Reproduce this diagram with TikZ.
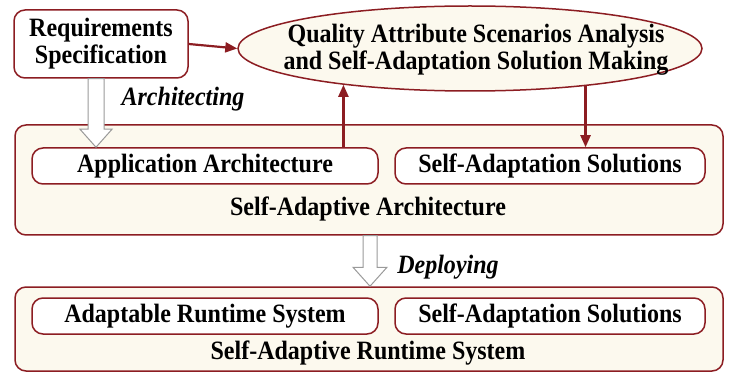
\documentclass[tikz,border=0pt]{standalone}
\usepackage{fontspec}
\setmainfont{Liberation Serif}
\usetikzlibrary{shapes.geometric,arrows.meta,calc}
\definecolor{wine}{HTML}{8C1D22}
\definecolor{cream}{HTML}{FCF9EE}
\definecolor{arrowgray}{HTML}{9A9A9A}
\newcommand\tallish[1]{\scalebox{0.98}[1.08]{#1}}
\tikzset{
  lbl/.style={font=\fontsize{24.5}{27}\selectfont\bfseries, align=center},
  itlbl/.style={font=\fontsize{24.5}{27}\selectfont\bfseries\itshape},
  roundbox/.style={draw=wine, line width=1.5pt, rounded corners=11pt, inner sep=0pt},
  outerbox/.style={roundbox, fill=cream},
  innerbox/.style={roundbox, fill=white, lbl},
  link/.style={draw=wine, line width=2.2pt, -{Triangle[length=12pt,width=10pt]}},
  hollow/.style={draw=arrowgray, fill=white, line width=1pt, line join=miter},
}
% hollow block arrow from #1 (top) down to #2 (tip); #3 shaft half width, #4 head half width, #5 head length
\newcommand\blockdown[5]{%
  \path[hollow] let \p1=(#1), \p2=(#2) in
    (\x1-#3,\y1) -- (\x1-#3,\y2+#5) -- (\x1-#4,\y2+#5) -- (\x1,\y2)
    -- (\x1+#4,\y2+#5) -- (\x1+#3,\y2+#5) -- (\x1+#3,\y1) -- cycle;}
\begin{document}
\begin{tikzpicture}[x=1pt,y=-1pt]
\useasboundingbox (0,0) rectangle (729,377);

% architecture layer
\node[outerbox, minimum width=708pt, minimum height=110pt] (arch) at (369,180) {};
\node[lbl] (archlbl) at (368,209) {\tallish{Self-Adaptive Architecture}};
\node[innerbox, minimum width=346pt, minimum height=36pt] (app) at (205,166) {\tallish{Application Architecture}};
\node[innerbox, minimum width=310pt, minimum height=36pt] (sas) at (550,166) {\tallish{Self-Adaptation Solutions}};

% runtime layer
\node[outerbox, minimum width=708pt, minimum height=84pt] (rt) at (369,329) {};
\node[lbl] (rtlbl) at (368,353) {\tallish{Self-Adaptive Runtime System}};
\node[innerbox, minimum width=346pt, minimum height=36pt] (ars) at (205,316) {\tallish{Adaptable Runtime System}};
\node[innerbox, minimum width=310pt, minimum height=36pt] (sas2) at (550,316) {\tallish{Self-Adaptation Solutions}};

% requirements and analysis
\node[roundbox, fill=white, lbl, minimum width=174pt, minimum height=68pt] (req) at (101,44)
      {\tallish{Requirements}\\\tallish{Specification}};
\node[ellipse, draw=wine, line width=1.5pt, fill=cream, inner sep=0pt,
      minimum width=464pt, minimum height=85pt] (ell) at (470,48.5) {};
\node[lbl] (elllbl) at (476,50)
      {\tallish{Quality Attribute Scenarios Analysis}\\\tallish{and Self-Adaptation Solution Making}};

% connectors
\draw[link] (req.east) -- (ell.west);
\draw[link] (app.north -| ell.196) -- (ell.196);
\draw[link] (ell.342) -- (ell.342 |- sas.north);

% block arrows
\coordinate (archtop) at (96,78);
\blockdown{req.south -| archtop}{app.north -| archtop}{8pt}{16pt}{18pt}
\coordinate (deptop) at (370,235);
\blockdown{arch.south -| deptop}{rt.north -| deptop}{7pt}{17pt}{19pt}

\node[itlbl] (archit) at (183,99) {\tallish{Architecting}};
\node[itlbl] (deploy) at (448,267) {\tallish{Deploying}};
\end{tikzpicture}
\end{document}
